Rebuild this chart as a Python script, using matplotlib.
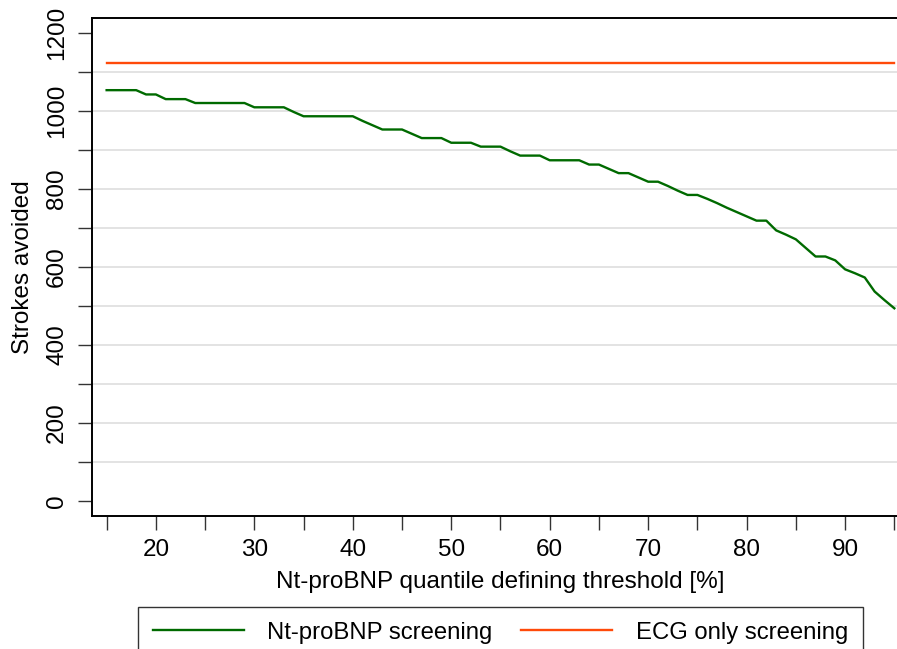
import numpy as np
import matplotlib
matplotlib.use("Agg")
import matplotlib.pyplot as plt

plt.rcParams['font.family'] = ['Liberation Sans', 'DejaVu Sans']

# Nt-proBNP quantile defining threshold [%]
thresholds = np.arange(15, 96)
# strokes avoided with Nt-proBNP screening
ntprobnp = [1054, 1054, 1054, 1054, 1043, 1043, 1031, 1031, 1031, 1021,
            1021, 1021, 1021, 1021, 1021, 1010, 1010, 1010, 1010, 998,
            987, 987, 987, 987, 987, 987, 975, 964, 953, 953,
            953, 942, 931, 931, 931, 919, 919, 919, 909, 909,
            909, 897, 886, 886, 886, 874, 874, 874, 874, 863,
            863, 852, 841, 841, 830, 819, 819, 808, 796, 785,
            785, 775, 764, 752, 741, 730, 719, 719, 694, 683,
            671, 649, 627, 627, 617, 594, 584, 573, 537, 515,
            494]
# strokes avoided with ECG only screening (flat)
ecg_only = 1123

GREEN = '#006a00'
ORANGE = '#ff4a0a'

fig = plt.figure(figsize=(8.97, 6.49), dpi=100)
ax = fig.add_axes([0.1022, 0.2054, 0.9115, 0.7664])

ax.plot(thresholds, ntprobnp, color=GREEN, lw=1.7, label='Nt-proBNP screening')
ax.plot(thresholds, [ecg_only] * len(thresholds), color=ORANGE, lw=1.7,
        label='ECG only screening')

ax.set_xlim(13.48, 96.52)
ax.set_ylim(-38.5, 1238.5)

ax.set_yticks(np.arange(0, 1201, 200))
ax.set_yticks(np.arange(100, 1200, 200), minor=True)
ax.set_xticks(np.arange(20, 91, 10))
ax.set_xticks(np.arange(15, 96, 10), minor=True)
for y in range(100, 1200, 100):
    ax.axhline(y, color='#e3e3e3', lw=1.4, zorder=0)

ax.tick_params(axis='both', which='both', length=10, width=1, color='#333333',
               labelsize=17.5, pad=7)
for lab in ax.get_yticklabels():
    lab.set_rotation(90)
    lab.set_va('center')

for s in ax.spines.values():
    s.set_linewidth(1.4)

ax.set_xlabel('Nt-proBNP quantile defining threshold [%]', fontsize=17.5, labelpad=7)
ax.set_ylabel('Strokes avoided', fontsize=17.5, labelpad=9)

leg = fig.legend(loc='upper center', bbox_to_anchor=(0.558, 0.0643), ncol=2,
                 fontsize=17.2, frameon=True, fancybox=False, edgecolor='black',
                 handlelength=3.8, handletextpad=1.0, columnspacing=1.2,
                 borderpad=0.6, borderaxespad=0)
leg.get_frame().set_linewidth(1.0)

fig.savefig('out.png', dpi=100)
